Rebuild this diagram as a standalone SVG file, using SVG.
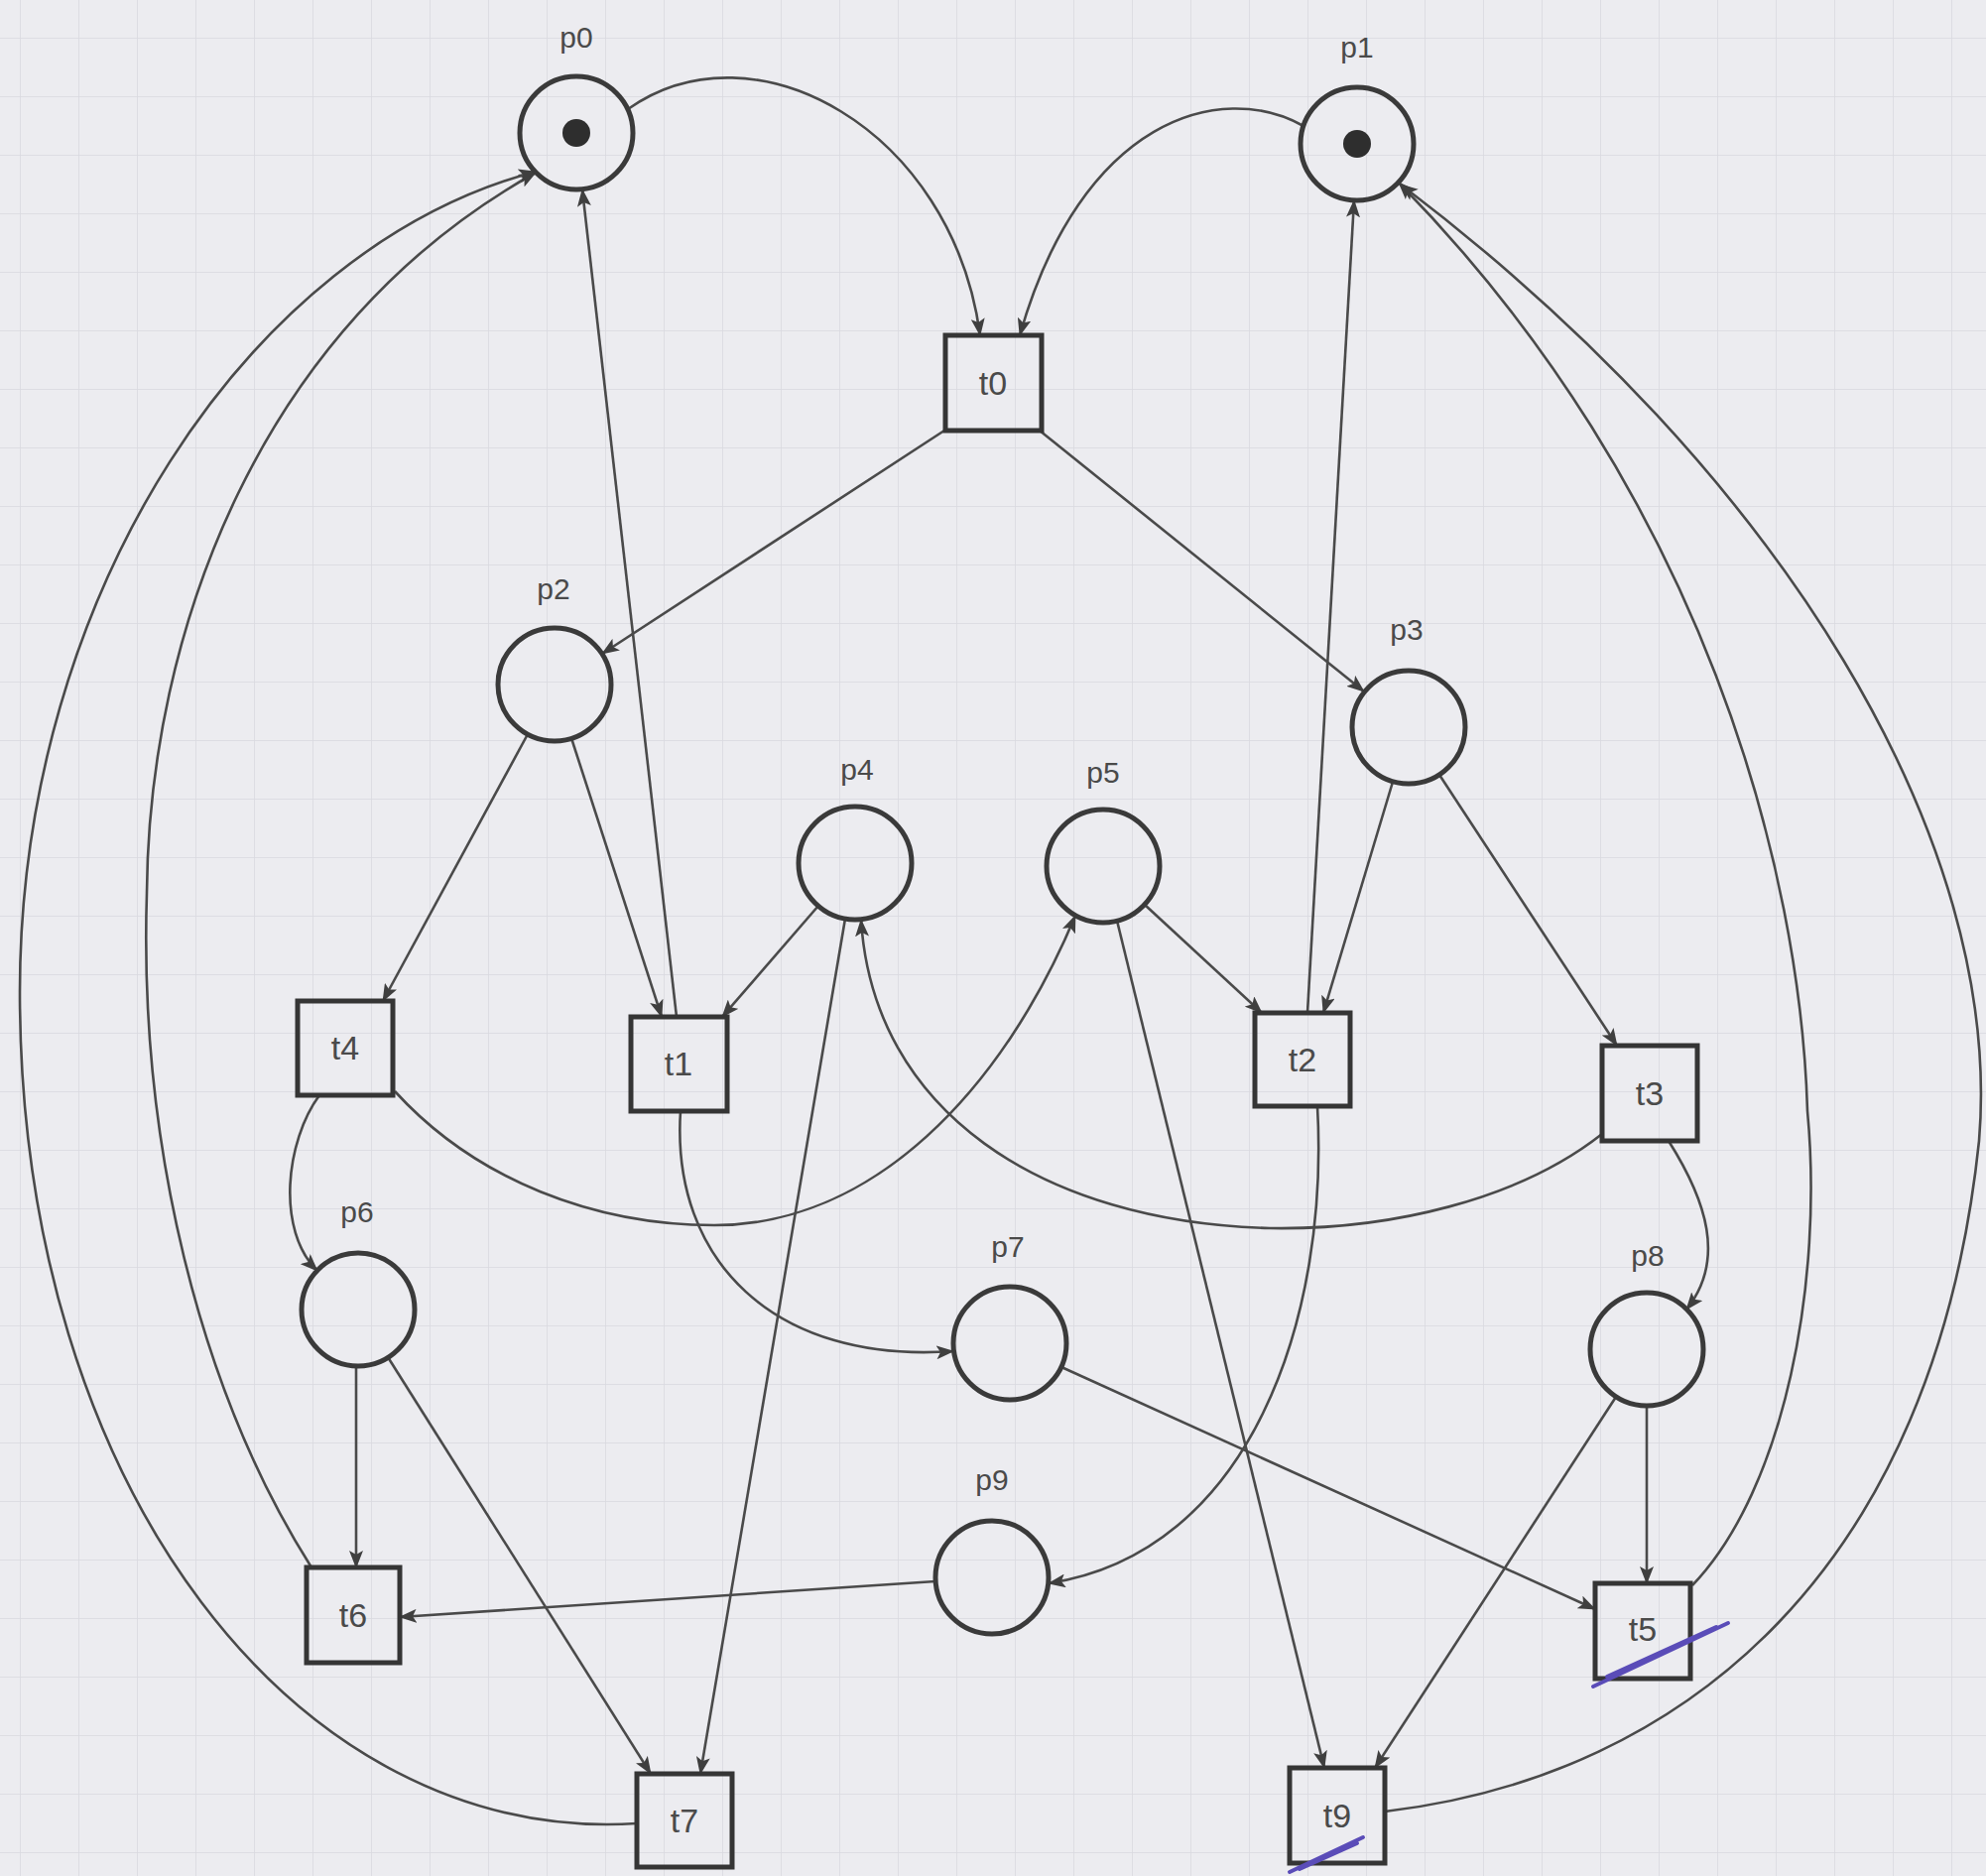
<svg xmlns="http://www.w3.org/2000/svg" width="2002" height="1891" viewBox="0 0 2002 1891">
<defs>
<pattern id="grid" x="20" y="38" width="59" height="59" patternUnits="userSpaceOnUse">
<path d="M0,0 H59 M0,0 V59" fill="none" stroke="#d9d9df" stroke-width="1.5"/>
</pattern>
<marker id="arr" markerUnits="userSpaceOnUse" markerWidth="18" markerHeight="14" refX="17" refY="7" orient="auto">
<path d="M0,0 L18,7 L0,14 L4,7 z" fill="#3f3f3f"/>
</marker>
<style>
.place{fill:none;stroke:#3a3a3a;stroke-width:5}
.trans{fill:none;stroke:#353535;stroke-width:5}
.token{fill:#2e2e2e}
.plabel{font-family:"Liberation Sans",Arial,sans-serif;font-size:30px;fill:#4a4a4a;text-anchor:middle}
.tlabel{font-family:"Liberation Sans",Arial,sans-serif;font-size:34px;fill:#4a4a4a;text-anchor:middle;dominant-baseline:central}
.arc{fill:none;stroke:#4a4a4a;stroke-width:2.6;marker-end:url(#arr)}
.pen{fill:none;stroke:#5a4cb8;stroke-width:4;stroke-linecap:round}
</style>
</defs>
<rect x="0" y="0" width="2002" height="1891" fill="#ececf0"/>
<rect x="0" y="0" width="2002" height="1891" fill="url(#grid)"/>

<g id="connectors">
<path class="arc" d="M633,110 C760,20 960,130 988,338"/>
<path class="arc" d="M1314,127 C1230,80 1090,120 1028,338"/>
<path class="arc" d="M955,432 L607,659"/>
<path class="arc" d="M1048,434 L1375,697"/>
<path class="arc" d="M532,740 L386,1009"/>
<path class="arc" d="M576,744 L667,1025"/>
<path class="arc" d="M682,1025 L587,191"/>
<path class="arc" d="M825,913 L728,1025"/>
<path class="arc" d="M852,926 L706,1788"/>
<path class="arc" d="M1615,1143 C1530,1210 1400,1240 1280,1238 C1050,1232 880,1120 868,927"/>
<path class="arc" d="M398,1100 C480,1190 600,1235 720,1235 C880,1235 1010,1100 1084,923"/>
<path class="arc" d="M1154,912 L1272,1021"/>
<path class="arc" d="M1126,928 L1335,1782"/>
<path class="arc" d="M1404,788 L1334,1021"/>
<path class="arc" d="M1318,1021 L1365,202"/>
<path class="arc" d="M1451,781 L1630,1054"/>
<path class="arc" d="M1682,1150 C1720,1210 1740,1270 1700,1320"/>
<path class="arc" d="M1660,1417 L1660,1596"/>
<path class="arc" d="M1629,1408 L1386,1782"/>
<path class="arc" d="M1070,1378 L1608,1622"/>
<path class="arc" d="M686,1120 C676,1270 780,1375 961,1362"/>
<path class="arc" d="M1328,1115 C1340,1330 1260,1565 1057,1596"/>
<path class="arc" d="M943,1594 L403,1630"/>
<path class="arc" d="M359,1377 L359,1580"/>
<path class="arc" d="M391,1368 L656,1788"/>
<path class="arc" d="M322,1104 C288,1150 278,1240 320,1281"/>
<path class="arc" d="M314,1580 C200,1400 140,1150 148,900 C150,640 260,330 540,174"/>
<path class="arc" d="M642,1838 C300,1860 20,1500 20,1000 C20,600 250,250 540,173"/>
<path class="arc" d="M1706,1598 C1800,1500 1838,1290 1822,1120 C1815,880 1720,500 1410,184"/>
<path class="arc" d="M1396,1826 C1700,1790 1950,1580 1995,1150 C2020,850 1800,480 1412,186"/>
</g>

<g id="p0"><circle class="place" cx="581" cy="134" r="57"/><circle class="token" cx="581" cy="134" r="14"/><text class="plabel" x="581" y="48">p0</text></g>
<g id="p1"><circle class="place" cx="1368" cy="145" r="57"/><circle class="token" cx="1368" cy="145" r="14"/><text class="plabel" x="1368" y="58">p1</text></g>
<g id="p2"><circle class="place" cx="559" cy="690" r="57"/><text class="plabel" x="558" y="604">p2</text></g>
<g id="p3"><circle class="place" cx="1420" cy="733" r="57"/><text class="plabel" x="1418" y="645">p3</text></g>
<g id="p4"><circle class="place" cx="862" cy="870" r="57"/><text class="plabel" x="864" y="786">p4</text></g>
<g id="p5"><circle class="place" cx="1112" cy="873" r="57"/><text class="plabel" x="1112" y="789">p5</text></g>
<g id="p6"><circle class="place" cx="361" cy="1320" r="57"/><text class="plabel" x="360" y="1232">p6</text></g>
<g id="p7"><circle class="place" cx="1018" cy="1354" r="57"/><text class="plabel" x="1016" y="1267">p7</text></g>
<g id="p8"><circle class="place" cx="1660" cy="1360" r="57"/><text class="plabel" x="1661" y="1276">p8</text></g>
<g id="p9"><circle class="place" cx="1000" cy="1590" r="57"/><text class="plabel" x="1000" y="1502">p9</text></g>

<g id="t0"><rect class="trans" x="953" y="338" width="97" height="96"/><text class="tlabel" x="1001" y="386">t0</text></g>
<g id="t1"><rect class="trans" x="636" y="1025" width="97" height="95"/><text class="tlabel" x="684" y="1072">t1</text></g>
<g id="t2"><rect class="trans" x="1265" y="1021" width="96" height="94"/><text class="tlabel" x="1313" y="1068">t2</text></g>
<g id="t3"><rect class="trans" x="1615" y="1054" width="96" height="96"/><text class="tlabel" x="1663" y="1102">t3</text></g>
<g id="t4"><rect class="trans" x="300" y="1009" width="96" height="95"/><text class="tlabel" x="348" y="1056">t4</text></g>
<g id="t5"><rect class="trans" x="1608" y="1596" width="96" height="96"/><text class="tlabel" x="1656" y="1642">t5</text><path class="pen" d="M1606,1700 L1742,1636 M1620,1690 L1730,1640"/></g>
<g id="t6"><rect class="trans" x="309" y="1580" width="94" height="96"/><text class="tlabel" x="356" y="1628">t6</text></g>
<g id="t7"><rect class="trans" x="642" y="1788" width="96" height="94"/><text class="tlabel" x="690" y="1835">t7</text></g>
<g id="t9"><rect class="trans" x="1300" y="1782" width="96" height="96"/><text class="tlabel" x="1348" y="1830">t9</text><path class="pen" d="M1300,1887 L1374,1852 M1310,1884 L1368,1858"/></g>
</svg>
